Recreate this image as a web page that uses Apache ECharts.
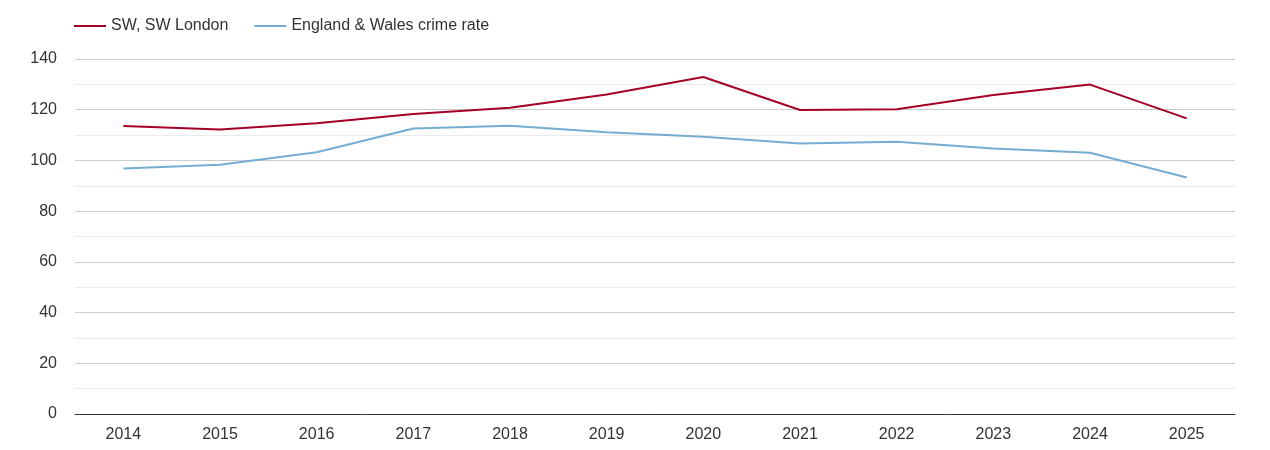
<!DOCTYPE html>
<html>
<head>
<meta charset="utf-8">
<script src="https://cdn.jsdelivr.net/npm/echarts@6/dist/echarts.min.js"></script>
<style>
  html, body { margin: 0; padding: 0; background: #fff; }
  #chart { width: 1270px; height: 450px; }
</style>
</head>
<body>
<div id="chart"></div>
<script>
var years = ['2014', '2015', '2016', '2017', '2018', '2019', '2020', '2021', '2022', '2023', '2024', '2025'];
var swLondon = [113.6, 112.2, 114.7, 118.3, 120.8, 126.0, 132.9, 119.9, 120.2, 125.8, 129.9, 116.6];
var englandWales = [96.8, 98.3, 103.2, 112.6, 113.7, 111.1, 109.3, 106.7, 107.4, 104.7, 103.0, 93.3];

var chart = echarts.init(document.getElementById('chart'));
var font = '"Liberation Sans", Arial, sans-serif';

var option = {
    animation: false,
    textStyle: { fontFamily: font },
    legend: {
        left: 69,
        top: 13,
        itemWidth: 32,
        itemHeight: 2,
        itemGap: 26,
        icon: 'rect',
        textStyle: { fontSize: 16, color: '#333', fontFamily: font },
        data: ['SW, SW London', 'England & Wales crime rate']
    },
    grid: { left: 75, right: 35, top: 59, bottom: 36, containLabel: false },
    xAxis: {
        type: 'category',
        data: years,
        boundaryGap: true,
        axisLine: { lineStyle: { color: '#333', width: 1 } },
        axisTick: { show: false },
        axisLabel: { fontSize: 16, color: '#333', margin: 13, fontFamily: font }
    },
    yAxis: {
        type: 'value',
        min: 0,
        max: 140,
        interval: 20,
        axisLine: { show: false },
        axisTick: { show: false },
        axisLabel: { fontSize: 16, color: '#333', margin: 18, fontFamily: font },
        splitLine: { lineStyle: { color: '#cccccc', width: 1 } },
        minorTick: { show: false, splitNumber: 2 },
        minorSplitLine: { show: true, lineStyle: { color: '#ebebeb', width: 1 } }
    },
    series: [
        {
            name: 'SW, SW London',
            type: 'line',
            data: swLondon,
            symbol: 'none',
            lineStyle: { color: '#a50026', width: 2 },
            itemStyle: { color: '#a50026' }
        },
        {
            name: 'England & Wales crime rate',
            type: 'line',
            data: englandWales,
            symbol: 'none',
            lineStyle: { color: '#74add1', width: 2 },
            itemStyle: { color: '#74add1' }
        }
    ]
};

chart.setOption(option);
</script>
</body>
</html>
